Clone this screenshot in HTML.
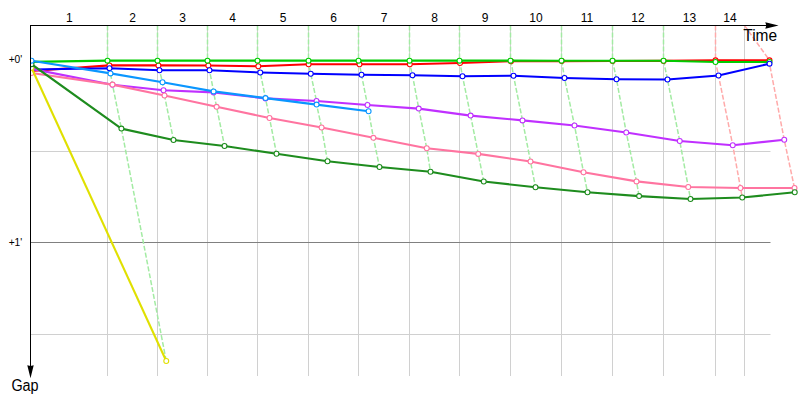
<!DOCTYPE html>
<html><head><meta charset="utf-8"><title>Gap chart</title>
<style>html,body{margin:0;padding:0;background:#fff;}body{width:800px;height:400px;overflow:hidden;}svg{display:block;}text{font-family:"Liberation Sans",sans-serif;fill:#000;}</style>
</head><body>
<svg width="800" height="400" viewBox="0 0 800 400">
<rect x="0" y="0" width="800" height="400" fill="#ffffff"/>
<defs><clipPath id="cp"><rect x="31" y="26" width="769" height="374"/></clipPath></defs>
<g stroke="#d0d0d0" stroke-width="1" fill="none">
<line x1="107.5" y1="26" x2="107.5" y2="376"/>
<line x1="157.5" y1="26" x2="157.5" y2="376"/>
<line x1="207.5" y1="26" x2="207.5" y2="376"/>
<line x1="257.5" y1="26" x2="257.5" y2="376"/>
<line x1="308.5" y1="26" x2="308.5" y2="376"/>
<line x1="358.5" y1="26" x2="358.5" y2="376"/>
<line x1="409.5" y1="26" x2="409.5" y2="376"/>
<line x1="459.5" y1="26" x2="459.5" y2="376"/>
<line x1="510.5" y1="26" x2="510.5" y2="376"/>
<line x1="561.5" y1="26" x2="561.5" y2="376"/>
<line x1="612.5" y1="26" x2="612.5" y2="376"/>
<line x1="663.5" y1="26" x2="663.5" y2="376"/>
<line x1="715.5" y1="26" x2="715.5" y2="376"/>
<line x1="744.5" y1="26" x2="744.5" y2="376"/>
<line x1="31" y1="151.5" x2="770.5" y2="151.5"/>
<line x1="31" y1="334.5" x2="770.5" y2="334.5"/>
</g>
<line x1="31" y1="242.5" x2="770.5" y2="242.5" stroke="#808080" stroke-width="1"/>
<g fill="none" stroke-width="1.5" stroke-dasharray="5 2" clip-path="url(#cp)">
<polyline stroke="#a3eba3" points="107.5,25.5 107.5,60.65 109.4,65.4 109.5,68.2 110.5,73.4 112.5,84.6 112.5,84.75 121.4,128.6 166.25,361.0"/>
<polyline stroke="#a3eba3" points="157.5,25.5 157.5,60.65 158.4,65.4 159.5,70.25 162.5,82.25 163.5,90.25 164.5,95.5 173.5,140"/>
<polyline stroke="#a3eba3" points="207.5,25.5 207.5,60.65 208.3,65.5 209.5,70.25 213.6,91.4 213.6,92.4 216.6,106.8 224.5,146"/>
<polyline stroke="#a3eba3" points="257.5,25.5 257.5,60.65 258.3,66.25 260.25,72.5 265.5,98.1 265.5,98.4 269.5,118 276.5,153.75"/>
<polyline stroke="#a3eba3" points="308.5,25.5 308.5,60.65 308.6,64.25 310.75,73.75 316.5,101 316.6,104.6 321.6,127.5 327.5,161.25"/>
<polyline stroke="#a3eba3" points="358.5,25.5 358.5,60.65 359.5,64.25 361.5,74.75 367.5,105 368.6,111.25 373.4,137.8 379.5,167"/>
<polyline stroke="#a3eba3" points="409.5,25.5 409.5,60.65 409.8,64.25 412.5,75.25 418.75,108.6 426.75,148.25 430.5,171.75"/>
<polyline stroke="#a3eba3" points="459.5,25.5 459.5,60.65 460,63 462.5,76.25 470.6,115.6 478.25,153.9 483.75,181.5"/>
<polyline stroke="#a3eba3" points="510.5,25.5 510.5,60.65 511,61.25 513.5,75.75 522.5,120.4 530.5,161.5 535.5,187.25"/>
<polyline stroke="#a3eba3" points="561.5,25.5 561.5,60.7 561.75,61.1 564.5,78 574.5,125.5 583.5,172.25 587.5,192.25"/>
<polyline stroke="#a3eba3" points="612.5,25.5 612.5,60.7 612.6,61.0 616.5,79.25 626.25,132.5 636.5,181.4 639.1,196.1"/>
<polyline stroke="#a3eba3" points="663.5,25.5 663.5,60.75 663.6,60.9 667.5,79.5 679.75,141 688.25,187 690.5,199"/>
<polyline stroke="#ffaaaa" points="715.5,25.5 715.5,60.3 715.5,62 718.5,75.5 732.75,145.25 740.5,188 742.25,197.5"/>
<polyline stroke="#ffaaaa" points="744.5,25.5 769.5,60.3 769.5,62 769.5,63.7 784.25,139.75 794.5,188 794.75,192.25"/>
</g>
<g clip-path="url(#cp)">
<g stroke="#ff0000">
<polyline fill="none" stroke-width="2.1" stroke-linejoin="round" points="31.5,71 109.4,65.4 158.4,65.4 208.3,65.5 258.3,66.25 308.6,64.25 359.5,64.25 409.8,64.25 460,63 511,61.25 561.75,61.1 612.6,61.0 663.6,60.9 715.5,60.3 769.5,60.3"/>
<circle cx="31.5" cy="71" r="2.45" fill="#fff" stroke-width="1.1"/>
<circle cx="109.4" cy="65.4" r="2.45" fill="#fff" stroke-width="1.1"/>
<circle cx="158.4" cy="65.4" r="2.45" fill="#fff" stroke-width="1.1"/>
<circle cx="208.3" cy="65.5" r="2.45" fill="#fff" stroke-width="1.1"/>
<circle cx="258.3" cy="66.25" r="2.45" fill="#fff" stroke-width="1.1"/>
<circle cx="308.6" cy="64.25" r="2.45" fill="#fff" stroke-width="1.1"/>
<circle cx="359.5" cy="64.25" r="2.45" fill="#fff" stroke-width="1.1"/>
<circle cx="409.8" cy="64.25" r="2.45" fill="#fff" stroke-width="1.1"/>
<circle cx="460" cy="63" r="2.45" fill="#fff" stroke-width="1.1"/>
<circle cx="511" cy="61.25" r="2.45" fill="#fff" stroke-width="1.1"/>
<circle cx="561.75" cy="61.1" r="2.45" fill="#fff" stroke-width="1.1"/>
<circle cx="612.6" cy="61.0" r="2.45" fill="#fff" stroke-width="1.1"/>
<circle cx="663.6" cy="60.9" r="2.45" fill="#fff" stroke-width="1.1"/>
<circle cx="715.5" cy="60.3" r="2.45" fill="#fff" stroke-width="1.1"/>
<circle cx="769.5" cy="60.3" r="2.45" fill="#fff" stroke-width="1.1"/>
</g>
<g stroke="#00cc00">
<polyline fill="none" stroke-width="2.1" stroke-linejoin="round" points="31.5,61.9 107.5,60.65 157.5,60.65 207.5,60.65 257.5,60.65 308.5,60.65 358.5,60.65 409.5,60.65 459.5,60.65 510.5,60.65 561.5,60.7 612.5,60.7 663.5,60.75 715.5,62 769.5,62"/>
<circle cx="31.5" cy="61.9" r="2.45" fill="#fff" stroke-width="1.1"/>
<circle cx="107.5" cy="60.65" r="2.45" fill="#fff" stroke-width="1.1"/>
<circle cx="157.5" cy="60.65" r="2.45" fill="#fff" stroke-width="1.1"/>
<circle cx="207.5" cy="60.65" r="2.45" fill="#fff" stroke-width="1.1"/>
<circle cx="257.5" cy="60.65" r="2.45" fill="#fff" stroke-width="1.1"/>
<circle cx="308.5" cy="60.65" r="2.45" fill="#fff" stroke-width="1.1"/>
<circle cx="358.5" cy="60.65" r="2.45" fill="#fff" stroke-width="1.1"/>
<circle cx="409.5" cy="60.65" r="2.45" fill="#fff" stroke-width="1.1"/>
<circle cx="459.5" cy="60.65" r="2.45" fill="#fff" stroke-width="1.1"/>
<circle cx="510.5" cy="60.65" r="2.45" fill="#fff" stroke-width="1.1"/>
<circle cx="561.5" cy="60.7" r="2.45" fill="#fff" stroke-width="1.1"/>
<circle cx="612.5" cy="60.7" r="2.45" fill="#fff" stroke-width="1.1"/>
<circle cx="663.5" cy="60.75" r="2.45" fill="#fff" stroke-width="1.1"/>
<circle cx="715.5" cy="62" r="2.45" fill="#fff" stroke-width="1.1"/>
<circle cx="769.5" cy="62" r="2.45" fill="#fff" stroke-width="1.1"/>
</g>
<g stroke="#0000ff">
<polyline fill="none" stroke-width="2.1" stroke-linejoin="round" points="31.5,69.5 109.5,68.2 159.5,70.25 209.5,70.25 260.25,72.5 310.75,73.75 361.5,74.75 412.5,75.25 462.5,76.25 513.5,75.75 564.5,78 616.5,79.25 667.5,79.5 718.5,75.5 769.5,63.7"/>
<circle cx="31.5" cy="69.5" r="2.45" fill="#fff" stroke-width="1.1"/>
<circle cx="109.5" cy="68.2" r="2.45" fill="#fff" stroke-width="1.1"/>
<circle cx="159.5" cy="70.25" r="2.45" fill="#fff" stroke-width="1.1"/>
<circle cx="209.5" cy="70.25" r="2.45" fill="#fff" stroke-width="1.1"/>
<circle cx="260.25" cy="72.5" r="2.45" fill="#fff" stroke-width="1.1"/>
<circle cx="310.75" cy="73.75" r="2.45" fill="#fff" stroke-width="1.1"/>
<circle cx="361.5" cy="74.75" r="2.45" fill="#fff" stroke-width="1.1"/>
<circle cx="412.5" cy="75.25" r="2.45" fill="#fff" stroke-width="1.1"/>
<circle cx="462.5" cy="76.25" r="2.45" fill="#fff" stroke-width="1.1"/>
<circle cx="513.5" cy="75.75" r="2.45" fill="#fff" stroke-width="1.1"/>
<circle cx="564.5" cy="78" r="2.45" fill="#fff" stroke-width="1.1"/>
<circle cx="616.5" cy="79.25" r="2.45" fill="#fff" stroke-width="1.1"/>
<circle cx="667.5" cy="79.5" r="2.45" fill="#fff" stroke-width="1.1"/>
<circle cx="718.5" cy="75.5" r="2.45" fill="#fff" stroke-width="1.1"/>
<circle cx="769.5" cy="63.7" r="2.45" fill="#fff" stroke-width="1.1"/>
</g>
<g stroke="#c030ff">
<polyline fill="none" stroke-width="2.1" stroke-linejoin="round" points="31.5,68.9 112.5,84.75 163.5,90.25 213.6,92.4 265.5,98.4 316.5,101 367.5,105 418.75,108.6 470.6,115.6 522.5,120.4 574.5,125.5 626.25,132.5 679.75,141 732.75,145.25 784.25,139.75"/>
<circle cx="31.5" cy="68.9" r="2.45" fill="#fff" stroke-width="1.1"/>
<circle cx="112.5" cy="84.75" r="2.45" fill="#fff" stroke-width="1.1"/>
<circle cx="163.5" cy="90.25" r="2.45" fill="#fff" stroke-width="1.1"/>
<circle cx="213.6" cy="92.4" r="2.45" fill="#fff" stroke-width="1.1"/>
<circle cx="265.5" cy="98.4" r="2.45" fill="#fff" stroke-width="1.1"/>
<circle cx="316.5" cy="101" r="2.45" fill="#fff" stroke-width="1.1"/>
<circle cx="367.5" cy="105" r="2.45" fill="#fff" stroke-width="1.1"/>
<circle cx="418.75" cy="108.6" r="2.45" fill="#fff" stroke-width="1.1"/>
<circle cx="470.6" cy="115.6" r="2.45" fill="#fff" stroke-width="1.1"/>
<circle cx="522.5" cy="120.4" r="2.45" fill="#fff" stroke-width="1.1"/>
<circle cx="574.5" cy="125.5" r="2.45" fill="#fff" stroke-width="1.1"/>
<circle cx="626.25" cy="132.5" r="2.45" fill="#fff" stroke-width="1.1"/>
<circle cx="679.75" cy="141" r="2.45" fill="#fff" stroke-width="1.1"/>
<circle cx="732.75" cy="145.25" r="2.45" fill="#fff" stroke-width="1.1"/>
<circle cx="784.25" cy="139.75" r="2.45" fill="#fff" stroke-width="1.1"/>
</g>
<g stroke="#ff74a0">
<polyline fill="none" stroke-width="2.1" stroke-linejoin="round" points="31.5,73.0 112.5,84.6 164.5,95.5 216.6,106.8 269.5,118 321.6,127.5 373.4,137.8 426.75,148.25 478.25,153.9 530.5,161.5 583.5,172.25 636.5,181.4 688.25,187 740.5,188 794.5,188"/>
<circle cx="31.5" cy="73.0" r="2.45" fill="#fff" stroke-width="1.1"/>
<circle cx="112.5" cy="84.6" r="2.45" fill="#fff" stroke-width="1.1"/>
<circle cx="164.5" cy="95.5" r="2.45" fill="#fff" stroke-width="1.1"/>
<circle cx="216.6" cy="106.8" r="2.45" fill="#fff" stroke-width="1.1"/>
<circle cx="269.5" cy="118" r="2.45" fill="#fff" stroke-width="1.1"/>
<circle cx="321.6" cy="127.5" r="2.45" fill="#fff" stroke-width="1.1"/>
<circle cx="373.4" cy="137.8" r="2.45" fill="#fff" stroke-width="1.1"/>
<circle cx="426.75" cy="148.25" r="2.45" fill="#fff" stroke-width="1.1"/>
<circle cx="478.25" cy="153.9" r="2.45" fill="#fff" stroke-width="1.1"/>
<circle cx="530.5" cy="161.5" r="2.45" fill="#fff" stroke-width="1.1"/>
<circle cx="583.5" cy="172.25" r="2.45" fill="#fff" stroke-width="1.1"/>
<circle cx="636.5" cy="181.4" r="2.45" fill="#fff" stroke-width="1.1"/>
<circle cx="688.25" cy="187" r="2.45" fill="#fff" stroke-width="1.1"/>
<circle cx="740.5" cy="188" r="2.45" fill="#fff" stroke-width="1.1"/>
<circle cx="794.5" cy="188" r="2.45" fill="#fff" stroke-width="1.1"/>
</g>
<g stroke="#e0e000">
<polyline fill="none" stroke-width="2.1" stroke-linejoin="round" points="31.5,67.8 166.25,361.0"/>
<circle cx="31.5" cy="67.8" r="2.45" fill="#fff" stroke-width="1.1"/>
<circle cx="166.25" cy="361.0" r="2.45" fill="#fff" stroke-width="1.1"/>
</g>
<g stroke="#1e8c1e">
<polyline fill="none" stroke-width="2.1" stroke-linejoin="round" points="31.5,64.2 121.4,128.6 173.5,140 224.5,146 276.5,153.75 327.5,161.25 379.5,167 430.5,171.75 483.75,181.5 535.5,187.25 587.5,192.25 639.1,196.1 690.5,199 742.25,197.5 794.75,192.25"/>
<circle cx="31.5" cy="64.2" r="2.45" fill="#fff" stroke-width="1.1"/>
<circle cx="121.4" cy="128.6" r="2.45" fill="#fff" stroke-width="1.1"/>
<circle cx="173.5" cy="140" r="2.45" fill="#fff" stroke-width="1.1"/>
<circle cx="224.5" cy="146" r="2.45" fill="#fff" stroke-width="1.1"/>
<circle cx="276.5" cy="153.75" r="2.45" fill="#fff" stroke-width="1.1"/>
<circle cx="327.5" cy="161.25" r="2.45" fill="#fff" stroke-width="1.1"/>
<circle cx="379.5" cy="167" r="2.45" fill="#fff" stroke-width="1.1"/>
<circle cx="430.5" cy="171.75" r="2.45" fill="#fff" stroke-width="1.1"/>
<circle cx="483.75" cy="181.5" r="2.45" fill="#fff" stroke-width="1.1"/>
<circle cx="535.5" cy="187.25" r="2.45" fill="#fff" stroke-width="1.1"/>
<circle cx="587.5" cy="192.25" r="2.45" fill="#fff" stroke-width="1.1"/>
<circle cx="639.1" cy="196.1" r="2.45" fill="#fff" stroke-width="1.1"/>
<circle cx="690.5" cy="199" r="2.45" fill="#fff" stroke-width="1.1"/>
<circle cx="742.25" cy="197.5" r="2.45" fill="#fff" stroke-width="1.1"/>
<circle cx="794.75" cy="192.25" r="2.45" fill="#fff" stroke-width="1.1"/>
</g>
<g stroke="#0a96ff">
<polyline fill="none" stroke-width="2.1" stroke-linejoin="round" points="31.5,60.7 110.5,73.4 162.5,82.25 213.6,91.4 265.5,98.1 316.6,104.6 368.6,111.25"/>
<circle cx="31.5" cy="60.7" r="2.45" fill="#fff" stroke-width="1.1"/>
<circle cx="110.5" cy="73.4" r="2.45" fill="#fff" stroke-width="1.1"/>
<circle cx="162.5" cy="82.25" r="2.45" fill="#fff" stroke-width="1.1"/>
<circle cx="213.6" cy="91.4" r="2.45" fill="#fff" stroke-width="1.1"/>
<circle cx="265.5" cy="98.1" r="2.45" fill="#fff" stroke-width="1.1"/>
<circle cx="316.6" cy="104.6" r="2.45" fill="#fff" stroke-width="1.1"/>
<circle cx="368.6" cy="111.25" r="2.45" fill="#fff" stroke-width="1.1"/>
</g>
</g>
<g stroke="#000" stroke-width="1" fill="none">
<line x1="30" y1="25.5" x2="767" y2="25.5"/>
<line x1="30.5" y1="25" x2="30.5" y2="367"/>
</g>
<polygon points="778.6,25.5 765.3,22.2 766.3,25.5 765.3,28.8" fill="#000"/>
<polygon points="30.5,378.2 27.3,365.2 30.5,366.1 33.7,365.2" fill="#000"/>
<text x="69.25" y="21.9" font-size="12" text-anchor="middle">1</text>
<text x="132.50" y="21.9" font-size="12" text-anchor="middle">2</text>
<text x="182.50" y="21.9" font-size="12" text-anchor="middle">3</text>
<text x="232.50" y="21.9" font-size="12" text-anchor="middle">4</text>
<text x="283.00" y="21.9" font-size="12" text-anchor="middle">5</text>
<text x="333.50" y="21.9" font-size="12" text-anchor="middle">6</text>
<text x="384.00" y="21.9" font-size="12" text-anchor="middle">7</text>
<text x="434.50" y="21.9" font-size="12" text-anchor="middle">8</text>
<text x="485.00" y="21.9" font-size="12" text-anchor="middle">9</text>
<text x="536.00" y="21.9" font-size="12" text-anchor="middle">10</text>
<text x="587.00" y="21.9" font-size="12" text-anchor="middle">11</text>
<text x="638.00" y="21.9" font-size="12" text-anchor="middle">12</text>
<text x="689.50" y="21.9" font-size="12" text-anchor="middle">13</text>
<text x="730.00" y="21.9" font-size="12" text-anchor="middle">14</text>
<text x="22.2" y="63.2" font-size="10.2" text-anchor="end">+0'</text>
<text x="22.2" y="246.2" font-size="10.2" text-anchor="end">+1'</text>
<text x="743.3" y="40.6" font-size="16" textLength="33.8" lengthAdjust="spacingAndGlyphs">Time</text>
<text x="11.4" y="390.8" font-size="16" textLength="27.2" lengthAdjust="spacingAndGlyphs">Gap</text>
</svg>
</body></html>
